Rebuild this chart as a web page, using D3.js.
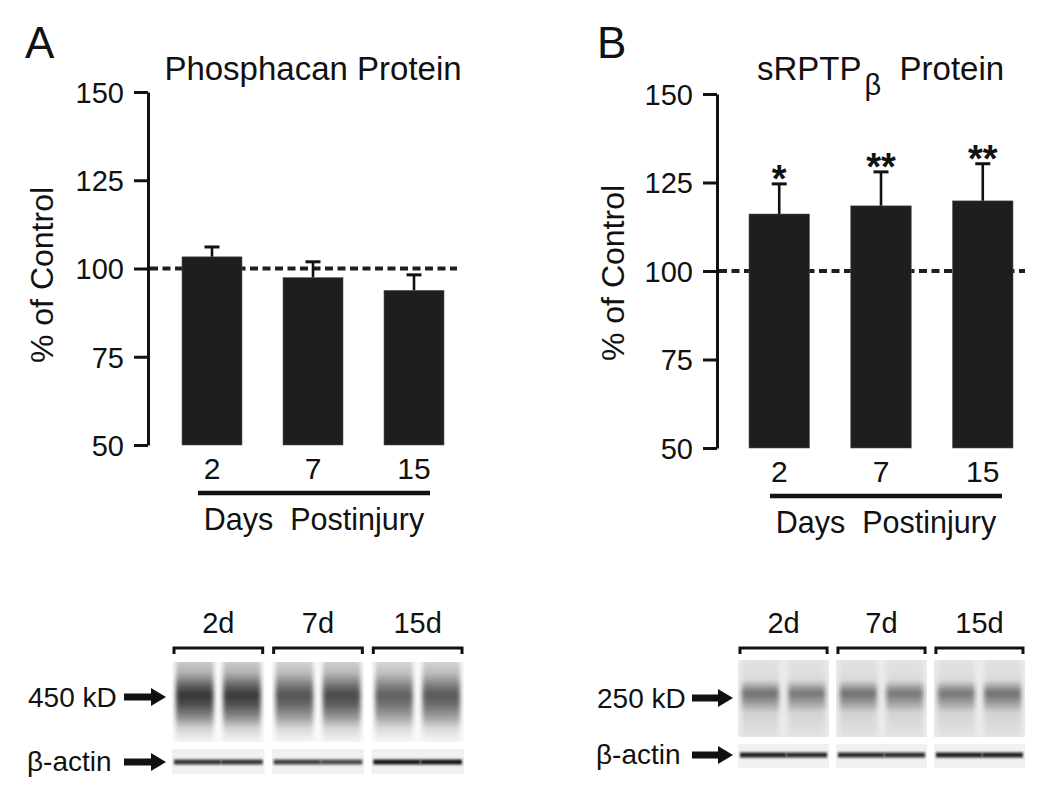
<!DOCTYPE html>
<html>
<head>
<meta charset="utf-8">
<script src="https://cdn.jsdelivr.net/npm/d3@7"></script>
<style>
  body { margin: 0; background: #fff; }
  svg { font-family: "Liberation Sans", Arial, sans-serif; }
</style>
</head>
<body>
<svg id="chart" width="1050" height="794"></svg>
<script>
// values
const days = ["2", "7", "15"];
const yTicks = [50, 75, 100, 125, 150];
const phosMean = [103.3, 97.4, 93.8];
const phosErr = [2.8, 4.5, 4.4];
const rptpMean = [116.1, 118.4, 119.8];
const rptpErr = [8.5, 9.6, 10.5];
const rptpSig = ["*", "**", "**"];

const blotGroups = ["2d", "7d", "15d"];
const phosBand = [[1, 0.98], [0.85, 0.9], [0.78, 0.82]];
const rptpBand = [[0.85, 0.8], [0.85, 0.8], [0.8, 0.85]];
const actinA = [[0.85, 0.85], [0.8, 0.75], [1, 1]];
const actinB = [[0.95, 0.9], [0.9, 0.88], [0.95, 0.95]];

const svg = d3.select("#chart");
const defs = svg.append("defs");

defs.append("filter").attr("id", "blur").attr("x", "-20%").attr("y", "-20%")
  .attr("width", "140%").attr("height", "140%")
  .append("feGaussianBlur").attr("stdDeviation", 2.2);
defs.append("filter").attr("id", "blurS").attr("x", "-20%").attr("y", "-50%")
  .attr("width", "140%").attr("height", "200%")
  .append("feGaussianBlur").attr("stdDeviation", 0.9);

function gradient(id, stops) {
  const g = defs.append("linearGradient").attr("id", id)
    .attr("x1", 0).attr("x2", 0).attr("y1", 0).attr("y2", 1);
  stops.forEach(s => g.append("stop").attr("offset", s[0]).attr("stop-color", s[1]));
}
gradient("gradA", [[0, "#d4d4d4"], [0.18, "#b0b0b0"], [0.33, "#606060"], [0.44, "#333"],
  [0.56, "#505050"], [0.7, "#8a8a8a"], [0.84, "#d4d4d4"], [1, "#f4f4f4"]]);
gradient("gradB", [[0, "#e2e2e2"], [0.3, "#d8d8d8"], [0.39, "#888"], [0.46, "#555"],
  [0.53, "#777"], [0.6, "#999"], [0.7, "#cfcfcf"], [1, "#e0e0e0"]]);

// ---------- bar charts ----------
function barPanel(cfg) {
  const g = svg.append("g");
  const y = d3.scaleLinear().domain([50, 150]).range([cfg.yBottom, cfg.yTop]);
  const x = d3.scaleBand().domain(days).range([cfg.barStart, cfg.barEnd])
    .paddingInner(0.406).paddingOuter(0);

  const axis = g.append("g")
    .attr("transform", `translate(${cfg.axisX},0)`)
    .call(d3.axisLeft(y).tickValues(yTicks).tickSize(14).tickSizeOuter(0).tickPadding(10));
  axis.select(".domain").attr("stroke", "#111").attr("stroke-width", 3);
  axis.selectAll(".tick line").attr("stroke", "#111").attr("stroke-width", 3);
  axis.selectAll(".tick text").attr("font-size", 29).attr("fill", "#111")
    .attr("font-family", "Liberation Sans, Arial, sans-serif").attr("dy", "0.36em");

  // dashed 100% line
  g.append("line")
    .attr("x1", cfg.axisX + 2).attr("x2", cfg.dashEnd)
    .attr("y1", y(100)).attr("y2", y(100))
    .attr("stroke", "#1e1e1e").attr("stroke-width", 3.8)
    .attr("stroke-dasharray", "8,4.5");

  const data = days.map((d, i) => ({ d, m: cfg.mean[i], e: cfg.err[i], s: cfg.sig ? cfg.sig[i] : "" }));

  // error bars
  const eb = g.selectAll(".eb").data(data).join("g");
  eb.append("line")
    .attr("x1", d => x(d.d) + x.bandwidth() / 2).attr("x2", d => x(d.d) + x.bandwidth() / 2)
    .attr("y1", d => y(d.m)).attr("y2", d => y(d.m + d.e))
    .attr("stroke", "#111").attr("stroke-width", 2.6);
  eb.append("line")
    .attr("x1", d => x(d.d) + x.bandwidth() / 2 - 7.5).attr("x2", d => x(d.d) + x.bandwidth() / 2 + 7.5)
    .attr("y1", d => y(d.m + d.e)).attr("y2", d => y(d.m + d.e))
    .attr("stroke", "#111").attr("stroke-width", 3);

  g.selectAll(".bar").data(data).join("rect")
    .attr("x", d => x(d.d)).attr("width", x.bandwidth())
    .attr("y", d => y(d.m)).attr("height", d => y(50) - y(d.m))
    .attr("fill", "#1e1e1e").attr("stroke", "#555").attr("stroke-width", 0.6);

  g.selectAll(".sig").data(data.filter(d => d.s)).join("text")
    .attr("x", d => x(d.d) + x.bandwidth() / 2)
    .attr("y", d => y(d.m + d.e) + 8)
    .attr("text-anchor", "middle").attr("font-size", 38).attr("font-weight", "bold")
    .attr("fill", "#111").text(d => d.s);

  // category labels
  g.selectAll(".cat").data(data).join("text")
    .attr("x", d => x(d.d) + x.bandwidth() / 2)
    .attr("y", cfg.yBottom + 34)
    .attr("text-anchor", "middle").attr("font-size", 30).attr("fill", "#111")
    .text(d => d.d);

  g.append("line")
    .attr("x1", cfg.underline[0]).attr("x2", cfg.underline[1])
    .attr("y1", cfg.yBottom + 48).attr("y2", cfg.yBottom + 48)
    .attr("stroke", "#111").attr("stroke-width", 4.5);

  g.append("text")
    .attr("x", (cfg.underline[0] + cfg.underline[1]) / 2)
    .attr("y", cfg.yBottom + 85)
    .attr("text-anchor", "middle").attr("font-size", 30.5).attr("fill", "#111")
    .attr("xml:space", "preserve")
    .text("Days  Postinjury");

  // y label
  g.append("text")
    .attr("transform", `translate(${cfg.ylabX},${cfg.ylabY}) rotate(-90)`)
    .attr("text-anchor", "middle").attr("font-size", 32).attr("fill", "#111")
    .text("% of Control");

  // panel letter
  g.append("text").attr("x", cfg.letterX).attr("y", 58)
    .attr("font-size", 44).attr("fill", "#111").text(cfg.letter);

  return g;
}

const gA = barPanel({
  letter: "A", letterX: 25, axisX: 148, yTop: 92, yBottom: 445,
  barStart: 182, barEnd: 444, dashEnd: 457, underline: [198, 430],
  ylabX: 53, ylabY: 275, mean: phosMean, err: phosErr
});
gA.append("text").attr("x", 313).attr("y", 80).attr("text-anchor", "middle")
  .attr("font-size", 33).attr("fill", "#111").text("Phosphacan Protein");

const gB = barPanel({
  letter: "B", letterX: 597, axisX: 717, yTop: 94, yBottom: 448,
  barStart: 749, barEnd: 1013, dashEnd: 1025, underline: [770, 1002],
  ylabX: 624, ylabY: 273, mean: rptpMean, err: rptpErr, sig: rptpSig
});
const tB = gB.append("text").attr("x", 757).attr("y", 80)
  .attr("font-size", 33).attr("fill", "#111").attr("xml:space", "preserve");
tB.append("tspan").text("sRPTP");
tB.append("tspan").attr("dx", 3).attr("dy", 15).attr("font-size", 29).text("β");
tB.append("tspan").attr("dy", -15).text("  Protein");

// ---------- western blots ----------
function blot(cfg) {
  const g = svg.append("g");
  const gx = d3.scaleBand().domain(blotGroups).range(cfg.range).paddingInner(0.07).paddingOuter(0);

  g.selectAll(".grp").data(blotGroups).join("text")
    .attr("x", d => gx(d) + gx.bandwidth() / 2).attr("y", 633)
    .attr("text-anchor", "middle").attr("font-size", 29).attr("fill", "#111").text(d => d);

  // brackets
  g.selectAll(".br").data(blotGroups).join("path")
    .attr("d", d => {
      const a = gx(d) + 2, b = gx(d) + gx.bandwidth() - 2;
      return `M${a},654 L${a},648 L${b},648 L${b},654`;
    })
    .attr("fill", "none").attr("stroke", "#111").attr("stroke-width", 3);

  blotGroups.forEach((grp, gi) => {
    const x0 = gx(grp), w = gx.bandwidth();
    const lane = d3.scaleBand().domain([0, 1]).range([x0, x0 + w]).paddingInner(0.2).paddingOuter(0.08);
    const cid = `clip${cfg.id}${gi}`;
    const cp = defs.append("clipPath").attr("id", cid);
    cp.append("rect").attr("x", x0).attr("y", cfg.top[0]).attr("width", w).attr("height", cfg.top[1] - cfg.top[0]);
    cp.append("rect").attr("x", x0).attr("y", cfg.bot[0]).attr("width", w).attr("height", cfg.bot[1] - cfg.bot[0]);

    const pg = g.append("g").attr("clip-path", `url(#${cid})`);
    pg.append("rect").attr("x", x0).attr("y", cfg.top[0]).attr("width", w)
      .attr("height", cfg.top[1] - cfg.top[0]).attr("fill", cfg.bg);
    pg.append("rect").attr("x", x0).attr("y", cfg.bot[0]).attr("width", w)
      .attr("height", cfg.bot[1] - cfg.bot[0]).attr("fill", "#f1f1f1");

    pg.selectAll(".lane").data(cfg.band[gi]).join("rect")
      .attr("x", (d, i) => lane(i)).attr("width", lane.bandwidth())
      .attr("y", cfg.top[0] - 4).attr("height", cfg.top[1] - cfg.top[0] + 4)
      .attr("fill", `url(#${cfg.grad})`).attr("opacity", d => d)
      .attr("filter", "url(#blur)");

    pg.selectAll(".actin").data(cfg.actin[gi]).join("rect")
      .attr("x", (d, i) => (i === 0 ? x0 + 2 : lane(1) - 2))
      .attr("width", (d, i) => (i === 0 ? lane(1) - x0 - 4 : x0 + w - lane(1)))
      .attr("y", cfg.actinY - 2.5).attr("height", 5)
      .attr("fill", "#151515").attr("opacity", d => d)
      .attr("filter", "url(#blurS)");
  });

  // labels and arrows
  function arrow(x1, x2, yy) {
    g.append("path")
      .attr("d", `M${x1},${yy - 3.5} L${x2 - 15},${yy - 3.5} L${x2 - 15},${yy - 9} L${x2},${yy} ` +
        `L${x2 - 15},${yy + 9} L${x2 - 15},${yy + 3.5} L${x1},${yy + 3.5} Z`)
      .attr("fill", "#111");
  }
  g.append("text").attr("x", cfg.labX).attr("y", cfg.bandY + 10)
    .attr("font-size", 28).attr("fill", "#111").text(cfg.label);
  arrow(cfg.arrow[0], cfg.arrow[1], cfg.bandY);
  g.append("text").attr("x", cfg.labX - 1).attr("y", cfg.actinY + 9)
    .attr("font-size", 28).attr("fill", "#111").text("β-actin");
  arrow(cfg.arrow[0], cfg.arrow[1], cfg.actinY);
}

blot({
  id: "A", range: [172, 464], top: [662, 742], bot: [749, 774], bg: "#fafafa",
  grad: "gradA", band: phosBand, actin: actinA, actinY: 762, bandY: 697,
  label: "450 kD", labX: 28, arrow: [124, 166]
});
blot({
  id: "B", range: [738, 1025], top: [660, 737], bot: [744, 768], bg: "#ebebeb",
  grad: "gradB", band: rptpBand, actin: actinB, actinY: 755, bandY: 698,
  label: "250 kD", labX: 597, arrow: [692, 733]
});
</script>
</body>
</html>
